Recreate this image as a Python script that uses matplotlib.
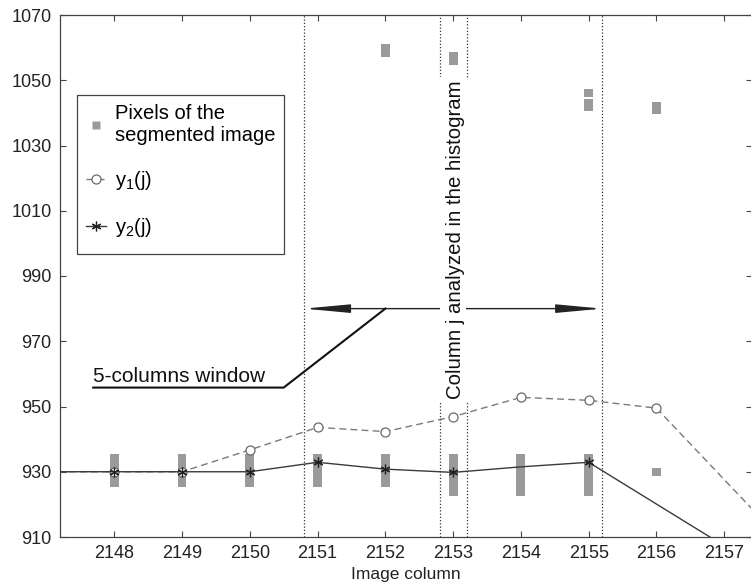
import matplotlib
matplotlib.use("Agg")
import matplotlib.pyplot as plt
from matplotlib.lines import Line2D
from matplotlib.patches import Rectangle, FancyArrowPatch

plt.rcParams['font.family'] = ['Liberation Sans', 'DejaVu Sans']
plt.rcParams['mathtext.fontset'] = 'custom'
plt.rcParams['mathtext.rm'] = 'Liberation Sans'
plt.rcParams['mathtext.it'] = 'Liberation Sans:italic'

# ---- data ----
# pixels of the segmented image: column, bottom value, top value
pix_col = [2148, 2149, 2150, 2151, 2152, 2153, 2154, 2155, 2156,
           2152, 2153, 2155, 2155, 2156]
pix_lo = [925.4, 925.4, 925.4, 925.4, 925.4, 922.6, 922.6, 922.6, 928.6,
          1057.2, 1054.7, 1044.8, 1040.7, 1039.6]
pix_hi = [935.3, 935.3, 935.3, 935.3, 935.3, 935.3, 935.3, 935.3, 931.1,
          1061.0, 1058.8, 1047.3, 1044.3, 1043.2]

y1_col = [2147, 2148, 2149, 2150, 2151, 2152, 2153, 2154, 2155, 2156, 2157, 2158]
y1_val = [930.0, 930.0, 930.0, 936.7, 943.6, 942.3, 946.9, 952.8, 951.9, 949.5, 927.6, 905.7]
y1_marked = [1, 2, 3, 4, 5, 6, 7, 8, 9]

y2_col = [2147, 2148, 2149, 2150, 2151, 2152, 2153, 2154, 2155, 2157]
y2_val = [930.0, 930.0, 930.0, 930.0, 932.9, 930.8, 929.8, 931.5, 932.9, 907.3]
y2_marked = [1, 2, 3, 4, 5, 6, 8]

x_ticks = [2148, 2149, 2150, 2151, 2152, 2153, 2154, 2155, 2156, 2157]
y_ticks = [910, 930, 950, 970, 990, 1010, 1030, 1050, 1070]

win_lo, win_hi = 2150.8, 2155.2       # 5-columns window
col_lo, col_hi = 2152.8, 2153.2       # analysed column
arrow_y = 980.0
label_gap = (951.7, 1051.0)

# ---- figure ----
fig = plt.figure(figsize=(7.51, 5.84), dpi=100)
ax = fig.add_axes([60 / 751, 47 / 584, 692 / 751, 522 / 584])
ax.set_xlim(2147.2, 2157.41)
ax.set_ylim(910, 1070)

bar_color = '#9a9a9a'
heights = [h - l for h, l in zip(pix_hi, pix_lo)]
ax.bar(pix_col, heights, bottom=pix_lo, width=0.13, color=bar_color,
       edgecolor='none', zorder=2)

ax.plot(y1_col, y1_val, linestyle=(0, (5, 3)), color='#7a7a7a', lw=1.0,
        marker='o', markersize=6.5, markerfacecolor='white',
        markeredgecolor='#6a6a6a', markeredgewidth=0.9,
        markevery=y1_marked, zorder=3)
ax.plot(y2_col, y2_val, linestyle='-', color='#3a3a3a', lw=1.0,
        marker=(6, 2, 0), markersize=7, markeredgecolor='#222222',
        markeredgewidth=0.9, markevery=y2_marked, zorder=4)

# window dotted lines
dot = dict(color='#333333', lw=0.9, linestyle=(0, (1, 1.6)), zorder=5)
ax.plot([win_lo, win_lo], [910, 1070], **dot)
ax.plot([win_hi, win_hi], [910, 1070], **dot)
for xc in (col_lo, col_hi):
    ax.plot([xc, xc], [label_gap[1], 1070], **dot)
    ax.plot([xc, xc], [910, label_gap[0]], **dot)

# double arrow
arr = FancyArrowPatch((win_lo, arrow_y), (win_hi, arrow_y),
                      arrowstyle='<|-|>,head_length=2.8,head_width=0.26',
                      mutation_scale=10, shrinkA=0, shrinkB=0,
                      lw=1.0, color='#222222', zorder=6)
ax.add_patch(arr)

# white gap behind the vertical label
ax.add_patch(Rectangle((col_lo + 0.01, label_gap[0]), col_hi - col_lo - 0.02,
                       label_gap[1] - label_gap[0], facecolor='white',
                       edgecolor='none', zorder=7))
ax.text(2153.03, 1001.0, 'Column j analyzed in the histogram', rotation=90,
        ha='center', va='center', fontsize=14.7, color='#111111', zorder=8)

# 5-columns window pointer
ax.plot([2147.69, 2150.5, 2152.0], [955.8, 955.8, arrow_y], color='#111111',
        lw=1.5, zorder=6, solid_joinstyle='miter')
ax.text(2147.69, 957.5, '5-columns window', ha='left', va='baseline',
        fontsize=15, color='#111111', zorder=8)

# axes styling
ax.set_xticks(x_ticks)
ax.set_yticks(y_ticks)
ax.tick_params(direction='in', length=4.5, width=0.8, color='#444444',
               labelsize=13, labelcolor='#222222', pad=6,
               top=True, right=True)
for s in ax.spines.values():
    s.set_color('#444444')
    s.set_linewidth(0.9)
ax.set_xlabel('Image column', fontsize=12.5, color='#222222', labelpad=3)

handles = [
    Line2D([], [], linestyle='none', marker='s', markersize=6,
           markerfacecolor=bar_color, markeredgecolor='none'),
    Line2D([], [], linestyle=(0, (5, 3)), color='#7a7a7a', lw=1.0,
           marker='o', markersize=6.5, markerfacecolor='white',
           markeredgecolor='#6a6a6a', markeredgewidth=0.9),
    Line2D([], [], linestyle='-', color='#3a3a3a', lw=1.0,
           marker=(6, 2, 0), markersize=7, markeredgecolor='#222222',
           markeredgewidth=0.9),
]
labels = ['Pixels of the\nsegmented image', r'y$_\mathregular{1}$(j)',
          r'y$_\mathregular{2}$(j)']
leg = ax.legend(handles, labels, loc='upper left',
                bbox_to_anchor=(0.024, 0.847), borderaxespad=0,
                fontsize=14.5, handlelength=1.0, handletextpad=0.45,
                labelspacing=1.2, borderpad=0.45, frameon=False)
leg.set_zorder(10)

# legend frame (MATLAB-like box)
ax.add_patch(Rectangle((76.7 / 751, (584 - 254) / 584), (284 - 76.7) / 751,
                       (254 - 95) / 584, transform=fig.transFigure,
                       facecolor='white', edgecolor='#444444', lw=0.9,
                       zorder=9))

fig.savefig('out.png', dpi=100)
